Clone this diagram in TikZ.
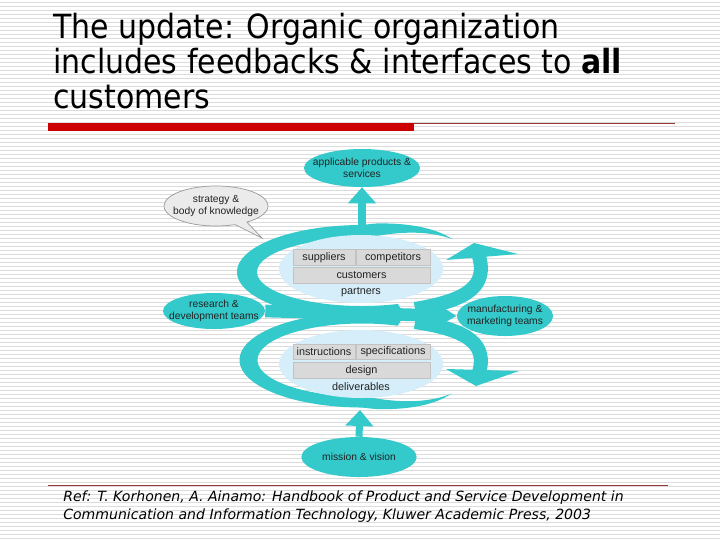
\documentclass[tikz,border=0pt]{standalone}
\usepackage{fontspec}
\setmainfont{DejaVu Sans}
\newfontfamily\titlefont{DejaVu Sans Condensed}
\newfontfamily\diagfont{Liberation Sans}
\usepackage{tikz}
\usetikzlibrary{arrows.meta,shapes.geometric,shapes.callouts,calc}
\definecolor{loopTeal}{HTML}{34CACB}
\definecolor{coreBlue}{HTML}{D5EEFA}
\definecolor{boxGrey}{HTML}{D9D9D9}
\definecolor{cellEdge}{HTML}{C2C2C2}
\definecolor{bubbleFill}{HTML}{EBEBEB}
\definecolor{bubbleEdge}{HTML}{9A9A9A}
\definecolor{barRed}{HTML}{CC0000}
\definecolor{ruleRed}{HTML}{9A3535}
\definecolor{stripeGrey}{HTML}{DCDCDC}
\definecolor{ink}{HTML}{222222}

\begin{document}
\begin{tikzpicture}[
  x=0.025cm, y=-0.025cm,
  font=\diagfont\fontsize{7.7}{8.7}\selectfont,
  declare function={
    upS(\t)=min(1,(-38-\t)/45);
    loS(\t)=min(1,(\t-38)/45);
    upLift(\t)=16*max(0,cos(\t))*max(0,-sin(\t));
    loLift(\t)=16*max(0,cos(\t))*max(0,sin(\t));
  },
  stripe/.style={draw=stripeGrey, line width=0.55pt},
  goal/.style={ellipse, fill=loopTeal, inner xsep=-9pt, inner ysep=0pt, align=center, text=ink,
    font=\diagfont\fontsize{7.3}{8.6}\selectfont},
  core/.style={ellipse, fill=coreBlue, inner sep=0pt, minimum width=4.1cm, minimum height=1.7cm},
  cell/.style={draw=cellEdge, fill=boxGrey, line width=0.5pt, inner sep=0pt, minimum height=0.39cm, text=ink},
  caption/.style={inner sep=0pt, text=ink},
  bubble/.style={ellipse callout, draw=bubbleEdge, fill=bubbleFill, line width=0.5pt, inner xsep=-9pt, inner ysep=0pt, align=center, text=ink,
    font=\diagfont\fontsize{7.3}{8.6}\selectfont},
  stem/.style={draw=loopTeal, line width=5pt, -{Triangle[length=0.4cm, width=0.68cm]}},
  swing/.style={draw=loopTeal, line width=10pt},
  flow/.style={draw=loopTeal, line width=9pt, -{Triangle[length=0.5cm, width=0.55cm]}}
]
\useasboundingbox (0,0) rectangle (720,540);
\fill[white] (0,0) rectangle (720,540);
\foreach \y in {2,6,...,538}
  \draw[stripe] (0,\y) -- (720,\y);

% ------------------------------------------------------------------
% Title and rules
% ------------------------------------------------------------------
\node[anchor=north west, align=left, inner sep=0pt, font=\titlefont\fontsize{23.7}{24.9}\selectfont] (title) at (53,13)
{The update: Organic organization\\includes feedbacks \& interfaces to \textbf{all}\\customers};
\fill[barRed] (48,123) rectangle (414,131);
\draw[ruleRed, line width=0.6pt] (414,123.5) -- (675,123.5);
\draw[ruleRed, line width=0.6pt] (48,485) -- (668,485);

% ------------------------------------------------------------------
% Loops
% ------------------------------------------------------------------
\fill[loopTeal] plot[domain=-38:-290, samples=90, smooth]
  ({362+(115+10*upS(\x))*cos(\x)}, {272+(40.5+6.5*upS(\x))*sin(\x)-upLift(\x)})
  -- plot[domain=-290:-38, samples=90, smooth]
  ({362+(115-10*upS(\x))*cos(\x)}, {272+(40.5-6.5*upS(\x))*sin(\x)-upLift(\x)}) -- cycle;
\fill[loopTeal] plot[domain=38:290, samples=90, smooth]
  ({362+(113.5+9*loS(\x))*cos(\x)}, {360+(42+5.5*loS(\x))*sin(\x)+loLift(\x)})
  -- plot[domain=290:38, samples=90, smooth]
  ({362+(113.5-9*loS(\x))*cos(\x)}, {360+(42-5.5*loS(\x))*sin(\x)+loLift(\x)}) -- cycle;

% right arms with their heads
\coordinate (armUfoot) at (415,309);
\coordinate (armUtop) at (479,256);
\coordinate (armLfoot) at (415,322);
\coordinate (armLtop) at (479,373);
\draw[swing] (armUfoot) .. controls (470,300) and (487,285) .. (armUtop);
\fill[loopTeal] (446,260) -- (474,243) -- (518,254) -- cycle;
\draw[swing] (armLfoot) .. controls (470,330) and (487,345) .. (armLtop);
\fill[loopTeal] (446,369) -- (476,386) -- (519,371) -- cycle;

% ------------------------------------------------------------------
% Cores
% ------------------------------------------------------------------
\node[core] (coreU) at (361,269) {};
\node[cell, minimum width=1.55cm] (supp) at (324,257.5) {suppliers};
\node[cell, minimum width=1.85cm] (comp) at (393,257.5) {competitors};
\node[cell, minimum width=3.42cm] (cust) at (361.5,275.5) {customers};
\node[caption] (partn) at (361,292) {partners};

\node[core] (coreL) at (361,364) {};
\node[cell, minimum width=1.55cm] (instr) at (324,352) {instructions};
\node[cell, minimum width=1.85cm] (spec) at (393,352) {specifications};
\node[cell, minimum width=3.42cm] (design) at (361.5,370.5) {design};
\node[caption] (deliv) at (361,387) {deliverables};

% ------------------------------------------------------------------
% Outer ellipses
% ------------------------------------------------------------------
\node[goal, minimum width=2.9cm, minimum height=0.95cm] (apps) at (362,168) {applicable products \&\\services};
\node[goal, minimum width=2.55cm, minimum height=0.9cm] (rnd) at (214,311) {research \&\\development teams};
\node[goal, minimum width=2.4cm, minimum height=1.0cm] (mfg) at (505,316) {manufacturing \&\\marketing teams};
\node[goal, minimum width=2.88cm, minimum height=1.0cm] (mission) at (359,457) {mission \& vision};
\coordinate (strTip) at (262,238);
\node[bubble, minimum width=2.6cm, minimum height=1.0cm, callout absolute pointer={(strTip)}] (strategy) at (216,206) {strategy \&\\body of knowledge};

\coordinate (loopTop) at (362,229);
\coordinate (loopBot) at (360,410);
\draw[stem] (loopTop) -- (apps.south);
\draw[stem] (mission.north) -- (loopBot);
\draw[flow] (rnd.east) -- (mfg.west);

% ------------------------------------------------------------------
% Reference
% ------------------------------------------------------------------
\node[anchor=north west, align=left, inner sep=0pt, font=\rmfamily\itshape\fontsize{10}{12.8}\selectfont] (ref) at (63,491)
{Ref: T. Korhonen, A. Ainamo: Handbook of Product and Service Development in\\Communication and Information Technology, Kluwer Academic Press, 2003};

\end{tikzpicture}
\end{document}
